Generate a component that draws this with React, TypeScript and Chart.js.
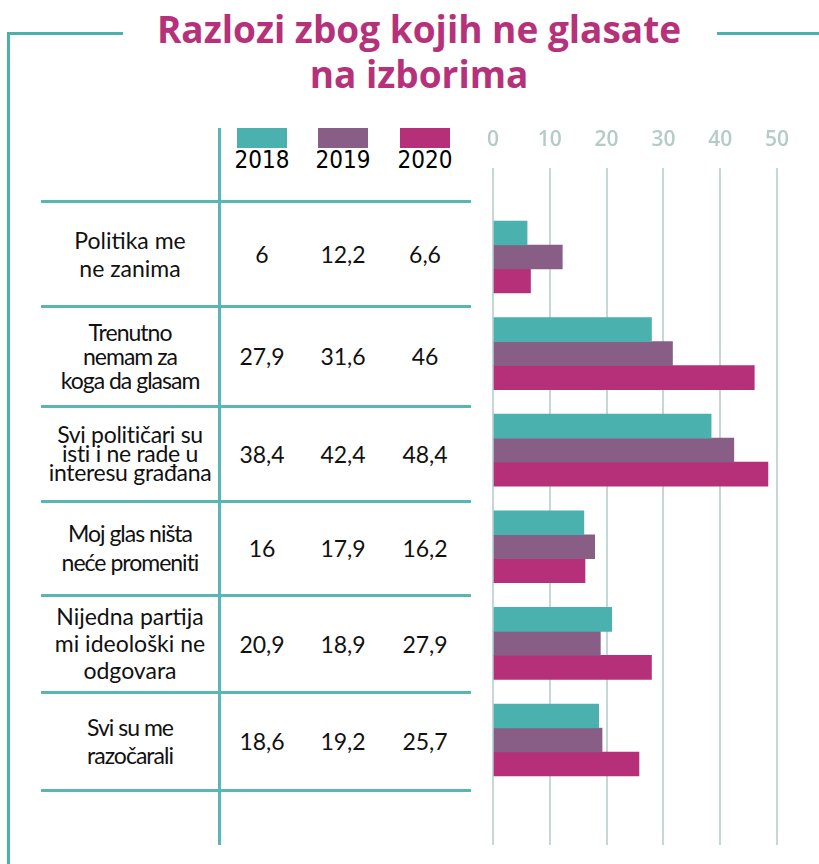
import React, { useEffect, useRef } from "react";
import { Chart, registerables } from "chart.js";

Chart.register(...registerables);

// ---------- data ----------
const TITLE_LINES = ["Razlozi zbog kojih ne glasate", "na izborima"];
const YEARS = ["2018", "2019", "2020"];
const CATEGORIES = [
  ["Politika me", "ne zanima"],
  ["Trenutno", "nemam za", "koga da glasam"],
  ["Svi političari su", "isti i ne rade u", "interesu građana"],
  ["Moj glas ništa", "neće promeniti"],
  ["Nijedna partija", "mi ideološki ne", "odgovara"],
  ["Svi su me", "razočarali"],
];
const VALUES_2018 = [6, 27.9, 38.4, 16, 20.9, 18.6];
const VALUES_2019 = [12.2, 31.6, 42.4, 17.9, 18.9, 19.2];
const VALUES_2020 = [6.6, 46, 48.4, 16.2, 27.9, 25.7];
const SERIES = [VALUES_2018, VALUES_2019, VALUES_2020];
const X_MIN = 0;
const X_MAX = 50;
const X_STEP = 10;

// ---------- styles / layout ----------
const COLORS = ["#4ab1ae", "#885e87", "#b52f79"];
const TEAL = "#4bb1ae";
const TABLE_LINE = "#58b7b3";
const TITLE_COLOR = "#b5327b";
const GRID_COLOR = "#c6d8d5";
const TICK_COLOR = "#b4cbc6";
const ROW_LINES = [201, 306, 406, 501, 595, 692, 790];
const ROW_LINE_HEIGHTS = [28, 24, 19, 29, 27, 28];
const ROW_LETTER_SPACING = [0, -1, -0.3, -1, 0, -1];
const VALUE_COL_CENTERS = [262, 343, 425];

const fmt = (v: number) => String(v).replace(".", ",");

function BarChart() {
  const ref = useRef<HTMLCanvasElement | null>(null);
  useEffect(() => {
    if (!ref.current) return;
    const chart = new Chart(ref.current, {
      type: "bar",
      data: {
        datasets: SERIES.map((vals, s) => ({
          label: YEARS[s],
          data: vals.map((v, i) => ({ x: v, y: i + 1 })),
          backgroundColor: COLORS[s],
          borderWidth: 0,
          barThickness: 24,
        })),
      },
      options: {
        indexAxis: "y",
        animation: false,
        responsive: false,
        maintainAspectRatio: false,
        layout: { padding: { left: 33, right: 42, top: 0, bottom: 19 } },
        plugins: { legend: { display: false }, tooltip: { enabled: false } },
        scales: {
          x: {
            type: "linear",
            position: "top",
            min: X_MIN,
            max: X_MAX,
            border: { display: false },
            grid: { color: GRID_COLOR, lineWidth: 2, drawTicks: false },
            afterFit: (scale: any) => {
              scale.height = 58;
            },
            ticks: {
              stepSize: X_STEP,
              padding: 15,
              color: TICK_COLOR,
              font: { family: "'Open Sans', sans-serif", size: 21, weight: "600" },
            },
          },
          y: {
            type: "linear",
            display: false,
            reverse: true,
            offset: false,
            grid: { offset: false },
            min: 0.079,
            max: 7.087,
          },
        },
      },
    } as any);
    return () => chart.destroy();
  }, []);
  return (
    <canvas
      ref={ref}
      width={359}
      height={754}
      style={{ position: "absolute", left: 460, top: 110, width: 359, height: 754 }}
    />
  );
}

export default function App() {
  const abs: React.CSSProperties = { position: "absolute" };
  return (
    <div
      style={{
        position: "fixed",
        left: 0,
        top: 0,
        width: 819,
        height: 864,
        background: "#ffffff",
        overflow: "hidden",
        fontFamily: "Lato, 'Open Sans', sans-serif",
        color: "#111",
      }}
    >
      {/* frame */}
      <div style={{ ...abs, left: 7, top: 32, width: 116, height: 3, background: TEAL }} />
      <div style={{ ...abs, left: 717, top: 32, width: 102, height: 3, background: TEAL }} />
      <div style={{ ...abs, left: 7, top: 32, width: 3, height: 832, background: TEAL }} />

      {/* title */}
      <div
        style={{
          ...abs,
          left: 119,
          top: 6,
          width: 600,
          textAlign: "center",
          color: TITLE_COLOR,
          fontFamily: "'Open Sans', sans-serif",
          fontWeight: 700,
          fontSize: 37,
          lineHeight: "45px",
          whiteSpace: "nowrap",
        }}
      >
        {TITLE_LINES.map((t, i) => (
          <div key={i}>{t}</div>
        ))}
      </div>

      {/* table lines */}
      <div style={{ ...abs, left: 218, top: 128, width: 3, height: 717, background: TABLE_LINE }} />
      {ROW_LINES.map((y, i) => (
        <div key={i} style={{ ...abs, left: 41, top: y - 1.5, width: 430, height: 3, background: TABLE_LINE }} />
      ))}

      {/* legend */}
      {YEARS.map((yr, s) => (
        <React.Fragment key={yr}>
          <div
            style={{
              ...abs,
              left: VALUE_COL_CENTERS[s] - 25,
              top: 128,
              width: 50,
              height: 20,
              background: COLORS[s],
            }}
          />
          <div
            style={{
              ...abs,
              left: VALUE_COL_CENTERS[s] - 40,
              top: 147,
              width: 80,
              textAlign: "center",
              fontFamily: "'Liberation Sans Narrow', 'DejaVu Sans Condensed', sans-serif",
              fontSize: 24,
              lineHeight: "26px",
              color: "#000",
            }}
          >
            {yr}
          </div>
        </React.Fragment>
      ))}

      {/* rows */}
      {CATEGORIES.map((lines, r) => {
        const top = ROW_LINES[r];
        const h = ROW_LINES[r + 1] - ROW_LINES[r];
        return (
          <React.Fragment key={r}>
            <div
              style={{
                ...abs,
                left: 38,
                top,
                width: 184,
                height: h,
                display: "flex",
                flexDirection: "column",
                justifyContent: "center",
                alignItems: "center",
                fontSize: 23,
                lineHeight: ROW_LINE_HEIGHTS[r] + "px",
                letterSpacing: ROW_LETTER_SPACING[r] + "px",
                whiteSpace: "nowrap",
                textAlign: "center",
              }}
            >
              {lines.map((l, k) => (
                <div key={k}>{l}</div>
              ))}
            </div>
            {SERIES.map((vals, s) => (
              <div
                key={s}
                style={{
                  ...abs,
                  left: VALUE_COL_CENTERS[s] - 40,
                  top,
                  width: 80,
                  height: h,
                  display: "flex",
                  alignItems: "center",
                  justifyContent: "center",
                  fontSize: 23,
                }}
              >
                {fmt(vals[r])}
              </div>
            ))}
          </React.Fragment>
        );
      })}

      <BarChart />
    </div>
  );
}
